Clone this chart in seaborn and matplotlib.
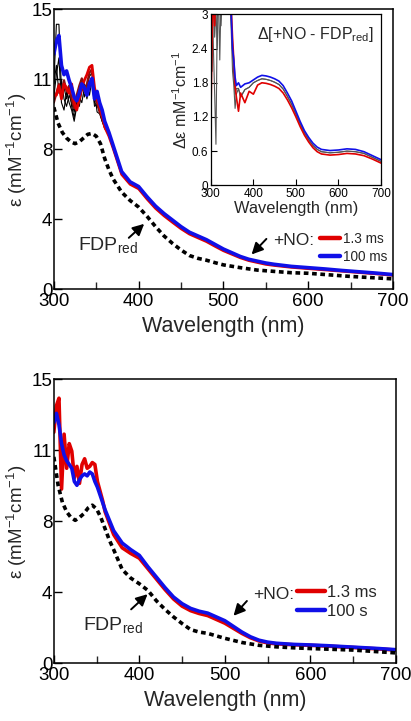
import matplotlib
matplotlib.use("Agg")
import matplotlib.pyplot as plt
import seaborn as sns
from matplotlib.lines import Line2D
from matplotlib.ticker import MultipleLocator, FixedLocator

# ---- data ----
wl_head = [300, 303, 306, 309, 312, 315, 318, 321, 324, 327, 330, 333, 336, 339,
           342, 345, 348, 351, 354, 357, 360]
wl_tail = [365, 370, 380, 390, 400, 410, 420, 430, 440, 450, 460, 470, 480, 490,
           500, 510, 520, 530, 540, 550, 560, 580, 600, 620, 640, 660, 680, 700]
wl_fdp = [300, 305, 310, 315, 320, 325, 330, 335, 340, 345, 350, 355, 360, 365, 370,
          380, 390, 400, 410, 420, 430, 440, 450, 460, 470, 480, 490, 500, 520, 540,
          560, 580, 600, 650, 700]

# top panel
top_fdp = [9.75, 8.9, 8.4, 8.1, 7.9, 7.8, 7.9, 8.1, 8.3, 8.35, 8.2, 7.8, 7.0, 6.4, 5.9,
           5.2, 4.75, 4.4, 3.9, 3.35, 2.85, 2.45, 2.1, 1.8, 1.65, 1.55, 1.42, 1.3, 1.15,
           1.02, 0.95, 0.88, 0.85, 0.68, 0.55]
top_blue_head = [12.6, 13.3, 13.6, 12.0, 11.5, 11.7, 11.2, 10.8, 10.3, 10.1, 10.5, 11.0,
                 10.8, 10.4, 11.0, 11.3, 10.2, 10.6, 10.0, 9.6, 9.0]
top_blue_tail = [8.4, 7.7, 6.3, 5.75, 5.5, 4.95, 4.45, 4.05, 3.7, 3.35, 3.05, 2.85, 2.65,
                 2.4, 2.15, 1.95, 1.75, 1.6, 1.5, 1.4, 1.33, 1.22, 1.15, 1.08, 1.0, 0.93,
                 0.86, 0.78]
top_red_head = [10.4, 10.4, 10.9, 10.2, 11.0, 10.8, 10.5, 11.0, 10.0, 9.6, 10.2, 10.8,
                11.2, 11.5, 11.9, 12.0, 10.8, 10.2, 9.8, 9.3, 8.7]
top_red_tail = [8.2, 7.55, 6.15, 5.62, 5.38, 4.83, 4.33, 3.93, 3.58, 3.24, 2.95, 2.75,
                2.55, 2.3, 2.06, 1.87, 1.68, 1.53, 1.43, 1.33, 1.27, 1.17, 1.1, 1.03,
                0.96, 0.89, 0.82, 0.74]
top_mid_tail = [8.3, 7.6, 6.2, 5.7, 5.45, 4.9, 4.4, 4.0, 3.64, 3.3, 3.0, 2.8, 2.6, 2.35,
                2.1, 1.9, 1.72, 1.57, 1.47, 1.37, 1.3, 1.2, 1.12, 1.05, 0.98, 0.91,
                0.84, 0.76]
top_darkred_head = [10.0, 10.5, 11.0, 10.4, 11.2, 10.6, 10.9, 10.2, 9.7, 10.4, 10.9,
                    11.3, 10.6, 11.0, 11.6, 11.8, 10.5, 10.0, 9.5, 9.2, 8.8]
top_black_heads = [
    [11.0, 14.2, 14.2, 10.6, 10.8, 10.2, 10.9, 9.8, 9.2, 10.0, 10.6, 11.2, 10.3, 10.8,
     11.4, 11.6, 10.0, 9.8, 9.7, 9.2, 8.8],
    [10.3, 11.5, 12.4, 10.0, 9.6, 10.6, 10.0, 9.6, 9.0, 9.8, 10.3, 10.0, 10.8, 11.0,
     10.4, 11.2, 10.6, 9.5, 9.4, 9.0, 8.6],
    [11.0, 12.0, 10.5, 11.2, 10.2, 9.8, 10.4, 10.0, 9.5, 10.2, 9.8, 10.6, 11.0, 10.2,
     10.8, 11.1, 9.8, 9.9, 9.5, 9.0, 8.7],
]

# inset (difference spectra)
in_blue_head = [3.5, 3.6, 3.3, 3.5, 3.4, 3.6, 3.5, 3.4, 3.3, 3.6, 3.5, 3.4, 3.2, 3.5,
                3.1, 3.3, 3.0, 2.4, 2.2, 1.9, 1.75]
in_blue_tail = [1.8, 1.72, 1.78, 1.8, 1.85, 1.9, 1.93, 1.92, 1.9, 1.87, 1.83, 1.75, 1.62,
                1.48, 1.3, 1.12, 0.96, 0.84, 0.74, 0.67, 0.63, 0.61, 0.62, 0.64, 0.63,
                0.59, 0.52, 0.45]
in_red_head = [1.1, 2.6, 3.5, 2.8, 3.5, 3.4, 3.6, 3.3, 3.5, 3.2, 3.4, 3.5, 3.3, 3.5,
               3.2, 3.4, 3.1, 2.6, 2.2, 1.75, 1.55]
in_red_tail = [1.3, 1.62, 1.45, 1.65, 1.6, 1.76, 1.8, 1.79, 1.77, 1.74, 1.7, 1.62, 1.5,
               1.36, 1.2, 1.03, 0.88, 0.76, 0.66, 0.59, 0.55, 0.53, 0.54, 0.56, 0.55,
               0.52, 0.46, 0.39]
in_gray_heads = [
    [2.8, 3.3, 2.4, 1.6, 0.72, 2.9, 3.4, 2.2, 3.3, 3.5, 3.2, 3.4, 3.6, 3.3, 3.4, 3.2,
     2.9, 2.3, 1.9, 1.6, 1.7],
    [3.2, 2.0, 3.5, 2.6, 3.1, 2.4, 3.3, 3.5, 2.8, 3.4, 3.1, 3.5, 3.2, 3.4, 3.0, 3.3,
     2.7, 2.0, 1.75, 1.35, 1.6],
]
in_gray_tail = [1.7, 1.55, 1.68, 1.72, 1.8, 1.84, 1.87, 1.86, 1.84, 1.81, 1.77, 1.69,
                1.56, 1.42, 1.25, 1.08, 0.92, 0.8, 0.7, 0.63, 0.59, 0.57, 0.58, 0.6,
                0.59, 0.56, 0.49, 0.42]

# bottom panel
bot_fdp = [10.9, 9.4, 8.5, 8.0, 7.7, 7.55, 7.7, 7.9, 8.2, 8.35, 8.15, 7.7, 7.1, 6.5,
           6.0, 4.95, 4.5, 4.2, 3.85, 3.3, 2.85, 2.45, 2.1, 1.78, 1.65, 1.58, 1.45,
           1.32, 1.1, 0.95, 0.87, 0.82, 0.78, 0.7, 0.55]
bot_blue_head = [12.7, 13.2, 12.6, 11.6, 11.0, 10.7, 10.5, 10.3, 9.6, 9.4, 9.7, 9.9,
                 10.0, 9.9, 10.1, 10.0, 9.6, 9.3, 8.9, 8.5, 8.1]
bot_blue_tail = [7.55, 7.0, 6.35, 6.0, 5.7, 5.1, 4.55, 4.0, 3.5, 3.15, 2.9, 2.75, 2.65,
                 2.45, 2.25, 1.95, 1.65, 1.4, 1.22, 1.12, 1.06, 1.0, 0.97, 0.93, 0.88,
                 0.83, 0.78, 0.72]
bot_red_head = [12.2, 13.6, 14.0, 9.2, 12.1, 10.3, 11.6, 11.2, 9.8, 10.4, 9.5, 10.5,
                10.8, 10.3, 10.4, 10.6, 10.5, 9.6, 9.1, 8.6, 8.0]
bot_red_tail = [7.4, 6.8, 6.1, 5.8, 5.55, 5.0, 4.45, 3.9, 3.4, 3.02, 2.78, 2.63, 2.52,
                2.32, 2.12, 1.85, 1.58, 1.35, 1.18, 1.08, 1.03, 0.98, 0.95, 0.91, 0.86,
                0.81, 0.76, 0.70]

y_ticks = [0, 3.75, 7.5, 11.25, 15]
y_tick_labels = ["0", "4", "8", "11", "15"]
in_y_ticks = [0, 0.6, 1.2, 1.8, 2.4, 3]
in_y_tick_labels = ["0", "0.6", "1.2", "1.8", "2.4", "3"]

# ---- style ----
sns.set_style("ticks")
plt.rcParams["font.family"] = ["Liberation Sans", "DejaVu Sans"]
plt.rcParams["mathtext.fontset"] = "custom"
plt.rcParams["mathtext.rm"] = "Liberation Sans"
plt.rcParams["axes.linewidth"] = 1.1
plt.rcParams["axes.edgecolor"] = "black"

RED = "#e00000"
DARKRED = "#8a1010"
BLUE = "#1010e8"
DASH = (0, (1.3, 1.0))
ARROW = dict(arrowstyle="-|>", color="black", lw=1.4, mutation_scale=17)

wl_full = wl_head + wl_tail


def line(ax, x, y, **kw):
    sns.lineplot(x=x, y=y, ax=ax, sort=False, estimator=None, legend=False, **kw)


def style_main(ax):
    ax.set_xlim(300, 700)
    ax.set_ylim(0, 15)
    ax.xaxis.set_major_locator(MultipleLocator(100))
    ax.xaxis.set_minor_locator(MultipleLocator(50))
    ax.yaxis.set_major_locator(FixedLocator(y_ticks))
    ax.set_yticklabels(y_tick_labels)
    ax.tick_params(axis="both", which="major", direction="in", length=6, width=1,
                   labelsize=13.5, colors="black")
    ax.tick_params(axis="y", which="major", pad=1)
    ax.tick_params(axis="x", which="major", pad=3)
    ax.tick_params(axis="x", which="minor", direction="in", length=5, width=1)
    ax.set_xlabel("Wavelength (nm)", fontsize=15.5, labelpad=4)
    ax.set_ylabel("ε (mM$^{\\mathregular{-1}}$cm$^{\\mathregular{-1}}$)", fontsize=13.5,
                  labelpad=2)
    for s in ax.spines.values():
        s.set_visible(True)


fig = plt.figure(figsize=(4.11, 7.21), dpi=100)

# ---- top panel ----
ax1 = fig.add_axes([0.131, 0.599, 0.825, 0.388])
for head in top_black_heads:
    line(ax1, wl_full, head + top_mid_tail, color="black", lw=0.8)
line(ax1, wl_full, top_darkred_head + top_mid_tail, color=DARKRED, lw=1.6)
line(ax1, wl_full, top_red_head + top_red_tail, color=RED, lw=2.0)
line(ax1, wl_full, top_blue_head + top_blue_tail, color=BLUE, lw=2.6)
line(ax1, wl_fdp, top_fdp, color="black", lw=2.6, linestyle=DASH)
style_main(ax1)

ax1.text(364, 2.3, "FDP$_{\\mathregular{red}}$", fontsize=14, ha="center", va="center")
ax1.annotate("", xy=(409, 3.6), xytext=(386, 2.65), arrowprops=ARROW)
ax1.text(583, 2.62, "+NO:", fontsize=12.5, ha="center", va="center")
ax1.annotate("", xy=(531, 1.75), xytext=(553, 2.8), arrowprops=ARROW)
handles = [Line2D([], [], color=RED, lw=3.2), Line2D([], [], color=BLUE, lw=3.2)]
ax1.legend(handles, ["1.3 ms", "100 ms"], loc="upper left",
           bbox_to_anchor=(0.785, 0.205), frameon=False, fontsize=9.8,
           handlelength=1.5, handletextpad=0.2, labelspacing=0.3,
           borderpad=0, borderaxespad=0)

# ---- inset ----
axi = fig.add_axes([0.513, 0.743, 0.414, 0.237])
axi.set_facecolor("white")
for head in in_gray_heads:
    line(axi, wl_full, head + in_gray_tail, color="#555555", lw=0.8)
line(axi, wl_full, in_red_head + in_red_tail, color=RED, lw=1.2)
line(axi, wl_full, in_blue_head + in_blue_tail, color=BLUE, lw=1.2)
axi.set_xlim(300, 700)
axi.set_ylim(0, 3)
axi.xaxis.set_major_locator(MultipleLocator(100))
axi.yaxis.set_major_locator(FixedLocator(in_y_ticks))
axi.set_yticklabels(in_y_tick_labels)
axi.tick_params(axis="both", direction="in", length=4, width=0.8, labelsize=8.5, pad=2,
                colors="black")
axi.set_xlabel("Wavelength (nm)", fontsize=11.8, labelpad=1)
axi.set_ylabel("Δε mM$^{\\mathregular{-1}}$cm$^{\\mathregular{-1}}$", fontsize=11.5,
               labelpad=1)
axi.text(0.96, 0.88, "Δ[+NO - FDP$_{\\mathregular{red}}$]", transform=axi.transAxes,
         fontsize=11.5, ha="right", va="center")
for s in axi.spines.values():
    s.set_linewidth(0.9)

# ---- bottom panel ----
ax2 = fig.add_axes([0.131, 0.080, 0.832, 0.394])
line(ax2, wl_full, bot_red_head + bot_red_tail, color=RED, lw=2.6)
line(ax2, wl_full, bot_blue_head + bot_blue_tail, color=BLUE, lw=2.6)
line(ax2, wl_fdp, bot_fdp, color="black", lw=2.6, linestyle=DASH)
style_main(ax2)

ax2.text(369, 2.0, "FDP$_{\\mathregular{red}}$", fontsize=14, ha="center", va="center")
ax2.annotate("", xy=(412, 3.75), xytext=(388, 2.75), arrowprops=ARROW)
ax2.text(557, 3.62, "+NO:", fontsize=12.5, ha="center", va="center")
ax2.annotate("", xy=(508, 2.4), xytext=(528, 3.4), arrowprops=ARROW)
handles = [Line2D([], [], color=RED, lw=3.2), Line2D([], [], color=BLUE, lw=3.2)]
ax2.legend(handles, ["1.3 ms", "100 s"], loc="upper left",
           bbox_to_anchor=(0.71, 0.275), frameon=False, fontsize=12,
           handlelength=1.7, handletextpad=0.15, labelspacing=0.2,
           borderpad=0, borderaxespad=0)

fig.savefig("out.png", dpi=100)
